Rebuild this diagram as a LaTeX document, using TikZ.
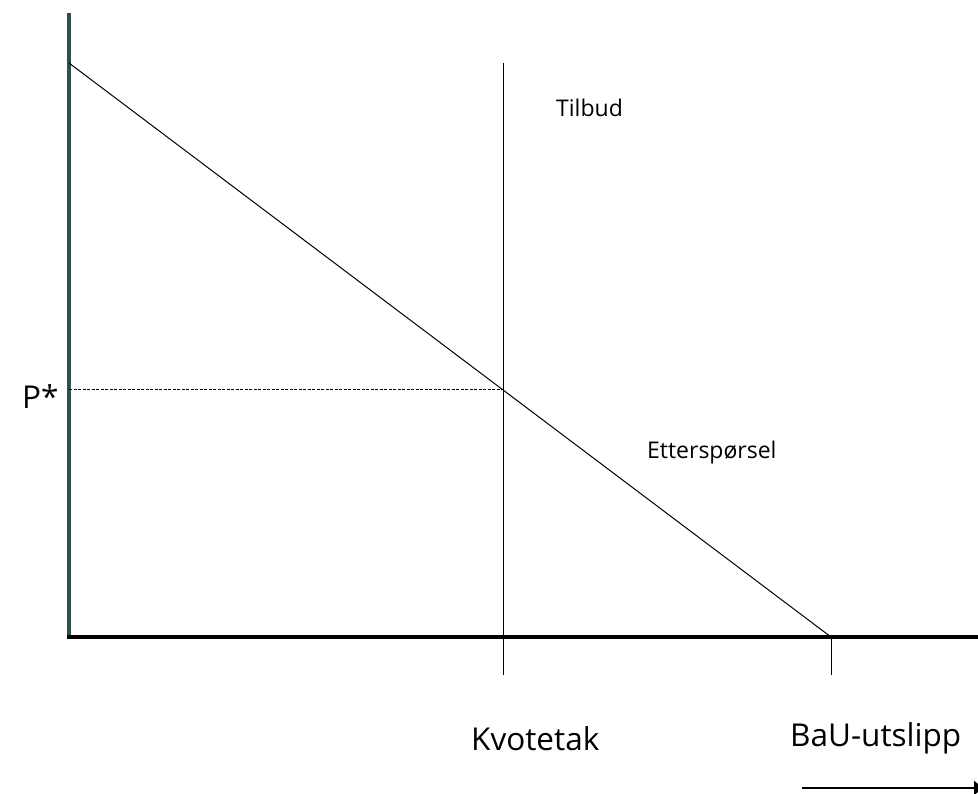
\documentclass[tikz,border=0pt]{standalone}
\usepackage{fontspec}
\setmainfont{Open Sans}
\usetikzlibrary{arrows.meta}
\definecolor{axisgray}{HTML}{2F4F4F}
\begin{document}
\begin{tikzpicture}[x=1pt,y=-1pt,
  thinline/.style={line width=1pt,black},
  smalllabel/.style={font=\fontsize{23}{27}\selectfont,inner sep=0pt,anchor=base west},
  biglabel/.style={font=\fontsize{31.5}{36}\selectfont,inner sep=0pt,anchor=base west}]
\useasboundingbox (0,0) rectangle (978,794);
% coordinates
\coordinate (ytop) at (69,13);
\coordinate (origin) at (69,637);
\coordinate (xend) at (985,637);
\coordinate (dtop) at (69,63);
\coordinate (bau) at (831,637);
\coordinate (eq) at (503,389.4);
\coordinate (qtop) at (503,63);
\coordinate (qbot) at (503,675);
\coordinate (baubot) at (831,675);
\coordinate (pstar) at (69,389.4);
\coordinate (arrS) at (802,788);
\coordinate (arrE) at (983,788);
% axes
\draw[line width=3.6pt,axisgray] (ytop) -- (origin);
\draw[line width=3.6pt,black] (67.2,637) -- (xend);
% demand
\draw[thinline] (dtop) -- (bau);
% quota line
\draw[thinline] (qtop) -- (qbot);
\draw[thinline] (bau) -- (baubot);
% dashed price
\draw[line width=0.8pt,dash pattern=on 3pt off 1.5pt] (pstar) -- (eq);
% arrow
\draw[line width=2.4pt,-{Triangle[length=9pt,width=14pt]}] (arrS) -- (arrE);
% labels
\node[smalllabel] (tilbud) at (556,117) {Tilbud};
\node[smalllabel] (ettersp) at (647,458) {Etterspørsel};
\node[biglabel] (pst) at (22,409) {P*};
\node[biglabel] (kvote) at (471,750) {Kvotetak};
\node[biglabel] (bautxt) at (790,746) {BaU-utslipp};
\end{tikzpicture}
\end{document}
